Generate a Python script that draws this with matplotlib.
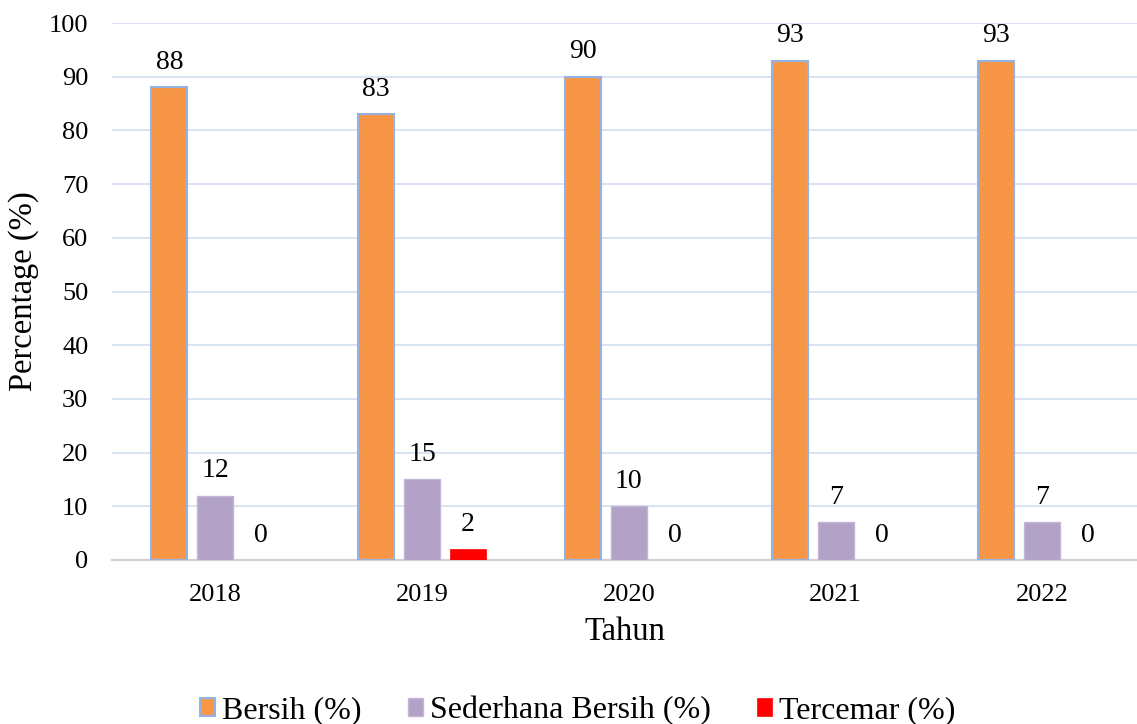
import matplotlib
matplotlib.use("Agg")
import matplotlib.pyplot as plt
import numpy as np

years = ["2018", "2019", "2020", "2021", "2022"]
bersih = [88, 83, 90, 93, 93]
sederhana = [12, 15, 10, 7, 7]
tercemar = [0, 2, 0, 0, 0]
series_names = ["Bersih (%)", "Sederhana Bersih (%)", "Tercemar (%)"]

plt.rcParams['font.family'] = ['Liberation Serif', 'DejaVu Serif']

fig = plt.figure(figsize=(11.37, 7.24), dpi=100)
W, H = 1137, 724
ax = fig.add_axes([112 / W, 1 - 560 / H, (1137 - 112) / W, (560 - 23) / H])

x = np.arange(len(years))
bw = 0.174
off = 0.2225
b1 = ax.bar(x - off, bersih, bw, color='#F79646', edgecolor='#95B3E0', linewidth=1.5, label=series_names[0], zorder=3)
b2 = ax.bar(x, sederhana, bw, color='#B2A2C7', edgecolor='#C3B6D6', linewidth=1.0, label=series_names[1], zorder=3)
b3 = ax.bar(x + off, tercemar, bw, color='#FF0000', edgecolor='#FF0000', linewidth=0.5, label=series_names[2], zorder=3)

for bars, vals in [(b1, bersih), (b2, sederhana), (b3, tercemar)]:
    for r, v in zip(bars, vals):
        ax.annotate(str(v), (r.get_x() + r.get_width() / 2, v), xytext=(0, 18),
                    textcoords='offset points', ha='center', va='center', fontsize=20)

ax.set_ylim(0, 100)
ax.set_xlim(-0.5, 4.458)
ax.set_yticks(np.arange(0, 101, 10))
ax.set_xticks(x)
ax.set_xticklabels(years)
ax.tick_params(axis='both', length=0, labelsize=19)
ax.tick_params(axis='y', pad=17)
ax.tick_params(axis='x', pad=17)
ax.grid(axis='y', color='#D6E0F0', linewidth=1.3, zorder=0)
for s in ['top', 'right', 'left']:
    ax.spines[s].set_visible(False)
ax.spines['bottom'].set_color('#D0D0D0')
ax.spines['bottom'].set_linewidth(1.5)

ax.set_xlabel('Tahun', fontsize=23.5, labelpad=8)
ax.set_ylabel('Percentage (%)', fontsize=23.5)
ax.yaxis.set_label_coords(-(112 - 39) / 1025, (560 - 291) / 537)

fig.legend(handles=[b1, b2, b3], labels=series_names, loc='center', bbox_to_anchor=(578 / W, 1 - 711 / H),
           ncol=3, frameon=False, fontsize=23, handlelength=0.47, handleheight=0.47,
           handletextpad=0.22, columnspacing=1.45)

fig.savefig('out.png', dpi=100)
